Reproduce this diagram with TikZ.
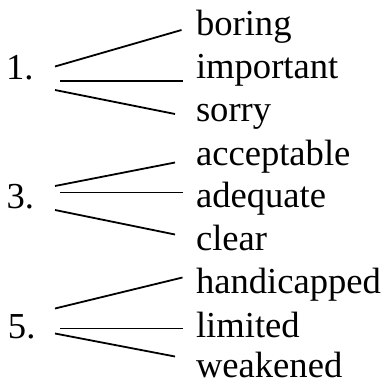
\documentclass[tikz,border=0pt]{standalone}
\usepackage{fontspec}
\setmainfont{Liberation Serif}
\begin{document}
\begin{tikzpicture}[x=1pt,y=-1pt,
  word/.style={anchor=base west,inner sep=0pt,outer sep=0pt,font=\fontsize{36.6}{44}\selectfont},
  num/.style={anchor=base west,inner sep=0pt,outer sep=0pt,font=\fontsize{36.6}{44}\selectfont},
  link/.style={line width=1.8pt}]
\useasboundingbox (0,0) rectangle (388,383);
% group 1
\node[num] (n1) at (6,79) {1.};
\node[word] (w1a) at (196,35) {boring};
\node[word] (w1b) at (196,78) {important};
\node[word] (w1c) at (196,121) {sorry};
\coordinate (s1a) at (55,66.5);
\coordinate (s1b) at (60,81);
\coordinate (s1c) at (55,90);
\coordinate (e1a) at (181.5,30);
\coordinate (e1b) at (182.5,81);
\coordinate (e1c) at (175,114);
\draw[link] (s1a) -- (e1a);
\draw[link] (s1b) -- (e1b);
\draw[link] (s1c) -- (e1c);
% group 2
\node[num] (n3) at (6.5,208) {3.};
\node[word] (w2a) at (196,165) {acceptable};
\node[word] (w2b) at (196,207) {adequate};
\node[word] (w2c) at (196,250) {clear};
\coordinate (s2a) at (55,186);
\coordinate (s2b) at (60,192.5);
\coordinate (s2c) at (55,210);
\coordinate (e2a) at (175,162.5);
\coordinate (e2b) at (182.5,192.5);
\coordinate (e2c) at (175,234.5);
\draw[link] (s2a) -- (e2a);
\draw[link] (s2b) -- (e2b);
\draw[link] (s2c) -- (e2c);
% group 3
\node[num] (n5) at (8,338) {5.};
\node[word] (w3a) at (196,293) {handicapped};
\node[word] (w3b) at (196,337) {limited};
\node[word] (w3c) at (196,377) {weakened};
\coordinate (s3a) at (55,308.5);
\coordinate (s3b) at (60,328.5);
\coordinate (s3c) at (55,333.5);
\coordinate (e3a) at (182.5,277.5);
\coordinate (e3b) at (182.5,328.5);
\coordinate (e3c) at (175,356.5);
\draw[link] (s3a) -- (e3a);
\draw[link] (s3b) -- (e3b);
\draw[link] (s3c) -- (e3c);
\end{tikzpicture}
\end{document}
